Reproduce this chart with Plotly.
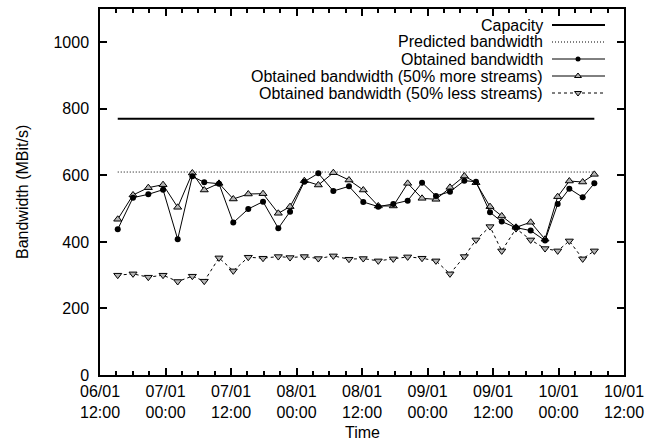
import plotly.graph_objects as go

# ---------------- data ----------------
times = [
    "2009-01-06 15:15", "2009-01-06 18:03", "2009-01-06 20:51", "2009-01-06 23:33",
    "2009-01-07 02:14", "2009-01-07 04:55", "2009-01-07 07:06", "2009-01-07 09:48",
    "2009-01-07 12:25", "2009-01-07 15:10", "2009-01-07 17:52", "2009-01-07 20:40",
    "2009-01-07 22:49", "2009-01-08 01:26", "2009-01-08 04:00", "2009-01-08 06:45",
    "2009-01-08 09:37", "2009-01-08 12:14", "2009-01-08 14:59", "2009-01-08 17:44",
    "2009-01-08 20:22", "2009-01-08 23:00", "2009-01-09 01:33", "2009-01-09 04:07",
    "2009-01-09 06:45", "2009-01-09 08:53", "2009-01-09 11:27", "2009-01-09 13:36",
    "2009-01-09 16:13", "2009-01-09 18:54", "2009-01-09 21:32", "2009-01-09 23:51",
    "2009-01-10 01:59", "2009-01-10 04:26", "2009-01-10 06:34",
]
capacity = [770] * 35
predicted = [610] * 35
obtained = [438, 533, 543, 557, 408, 597, 579, 575, 458, 499, 521, 441, 491, 581,
            606, 553, 567, 520, 506, 514, 524, 578, 538, 551, 584, 581, 489, 461,
            443, 434, 404, 514, 560, 534, 576]
more_streams = [468, 541, 563, 572, 504, 607, 556, 576, 529, 544, 545, 486, 506, 584,
                571, 608, 586, 556, 508, 508, 576, 531, 528, 564, 598, 578, 506, 478,
                444, 459, 408, 536, 583, 580, 603]
less_streams = [300, 304, 294, 300, 281, 297, 282, 352, 313, 354, 351, 356, 353, 356,
                350, 358, 348, 350, 343, 349, 355, 351, 343, 304, 356, 406, 446, 373,
                440, 406, 380, 373, 403, 349, 373]

x_tickvals = ["2009-01-06 12:00", "2009-01-07 00:00", "2009-01-07 12:00",
              "2009-01-08 00:00", "2009-01-08 12:00", "2009-01-09 00:00",
              "2009-01-09 12:00", "2009-01-10 00:00", "2009-01-10 12:00"]
x_ticktext = ["06/01<br>12:00", "07/01<br>00:00", "07/01<br>12:00",
              "08/01<br>00:00", "08/01<br>12:00", "09/01<br>00:00",
              "09/01<br>12:00", "10/01<br>00:00", "10/01<br>12:00"]
series_names = ["Capacity", "Predicted bandwidth", "Obtained bandwidth",
                "Obtained bandwidth (50% more streams)",
                "Obtained bandwidth (50% less streams)"]

# ---------------- style ----------------
FONT = "Liberation Sans, Arial, Helvetica, sans-serif"
W, H = 645, 444
ML, MR, MT, MB = 100, 21, 9, 69
PW, PH = W - ML - MR, H - MT - MB
GRAY = "#b4b4b4"


def px_x(x):
    return (x - ML) / PW


def px_y(y):
    return (H - MB - y) / PH


fig = go.Figure()

fig.add_trace(go.Scatter(x=times, y=capacity, mode="lines",
                         line=dict(color="black", width=2), showlegend=False))
fig.add_trace(go.Scatter(x=times, y=predicted, mode="lines",
                         line=dict(color="black", width=1, dash="1px,2px"), showlegend=False))
fig.add_trace(go.Scatter(x=times, y=less_streams, mode="lines+markers",
                         line=dict(color="black", width=1, dash="3px,3px"),
                         marker=dict(symbol="triangle-down", size=7, color=GRAY,
                                     line=dict(color="black", width=1)),
                         showlegend=False))
fig.add_trace(go.Scatter(x=times, y=more_streams, mode="lines+markers",
                         line=dict(color="black", width=1),
                         marker=dict(symbol="triangle-up", size=7, color=GRAY,
                                     line=dict(color="black", width=1)),
                         showlegend=False))
fig.add_trace(go.Scatter(x=times, y=obtained, mode="lines+markers",
                         line=dict(color="black", width=1),
                         marker=dict(symbol="circle", size=6, color="black"),
                         showlegend=False))

# ---------------- gnuplot-style key (text left, sample right) ----------------
key_rows = [25, 42, 59, 76, 93]
key_x0, key_x1, key_xm, key_text_x = 552, 605, 578, 545
key_styles = [
    dict(line=dict(color="black", width=2), marker=None),
    dict(line=dict(color="black", width=1, dash="1px,2px"), marker=None),
    dict(line=dict(color="black", width=1), marker=dict(symbol="circle", size=5, color="black")),
    dict(line=dict(color="black", width=1), marker=dict(symbol="triangle-up", size=6, color=GRAY,
                                                          line=dict(color="black", width=1))),
    dict(line=dict(color="black", width=1, dash="3px,3px"),
         marker=dict(symbol="triangle-down", size=6, color=GRAY, line=dict(color="black", width=1))),
]
for row, name, st in zip(key_rows, series_names, key_styles):
    fig.add_trace(go.Scatter(x=[key_x0, key_x1], y=[row, row], mode="lines",
                             line=st["line"], xaxis="x2", yaxis="y2",
                             showlegend=False, hoverinfo="skip"))
    if st["marker"] is not None:
        fig.add_trace(go.Scatter(x=[key_xm], y=[row], mode="markers",
                                 marker=st["marker"], xaxis="x2", yaxis="y2",
                                 showlegend=False, hoverinfo="skip"))
    fig.add_annotation(x=px_x(key_text_x), y=px_y(row), xref="paper", yref="paper", text=name,
                       showarrow=False, xanchor="right", yanchor="middle",
                       font=dict(family=FONT, size=16, color="black"))

# axis titles as annotations (gnuplot positions)
fig.add_annotation(x=0.5, y=px_y(432), xref="paper", yref="paper", text="Time",
                   showarrow=False, xanchor="center", yanchor="middle",
                   font=dict(family=FONT, size=16, color="black"))
fig.add_annotation(x=px_x(22), y=0.5, xref="paper", yref="paper",
                   text="Bandwidth (MBit/s)", textangle=-90,
                   showarrow=False, xanchor="center", yanchor="middle",
                   font=dict(family=FONT, size=16, color="black"))

axis_common = dict(showline=True, linecolor="black", linewidth=1.5, mirror="ticks",
                   ticks="inside", tickcolor="black", tickwidth=1.5, showgrid=False,
                   zeroline=False, automargin=False,
                   tickfont=dict(family=FONT, size=16, color="black"))

fig.update_layout(
    width=W, height=H,
    margin=dict(l=ML, r=MR, t=MT, b=MB, pad=0, autoexpand=False),
    paper_bgcolor="white", plot_bgcolor="white",
    font=dict(family=FONT, size=16, color="black"),
    showlegend=False,
    xaxis=dict(axis_common, type="date",
               range=[x_tickvals[0], x_tickvals[-1]],
               tickmode="array", tickvals=x_tickvals, ticktext=x_ticktext,
               ticklen=7, ticklabelstandoff=1,
               minor=dict(ticks="inside", ticklen=4, tickcolor="black", tickwidth=1.5,
                          tick0=x_tickvals[0], dtick=3 * 3600 * 1000, showgrid=False)),
    yaxis=dict(axis_common, range=[0, 1100], dtick=200, tick0=0, ticklen=7,
               ticklabelstandoff=6),
    xaxis2=dict(overlaying="x", range=[ML, W - MR], visible=False, fixedrange=True),
    yaxis2=dict(overlaying="y", range=[H - MB, MT], visible=False, fixedrange=True),
)

fig.write_html("out.html", config={"displayModeBar": False},
               post_script="document.body.style.margin='0';document.body.style.padding='0';"
                           "document.documentElement.style.overflow='hidden';")
